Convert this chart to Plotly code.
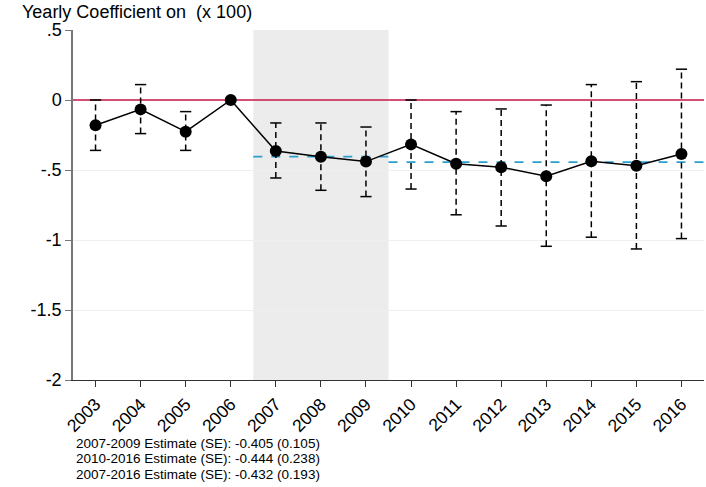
import plotly.graph_objects as go

years = list(range(2003, 2017))
coef = [-0.18, -0.067, -0.226, 0.0, -0.364, -0.405, -0.44,
        -0.317, -0.455, -0.48, -0.545, -0.438, -0.469, -0.386]
ci_hi = [0.0, 0.11, -0.083, None, -0.164, -0.164, -0.193,
         0.0, -0.083, -0.064, -0.036, 0.11, 0.131, 0.22]
ci_lo = [-0.36, -0.24, -0.36, None, -0.557, -0.645, -0.69,
         -0.636, -0.82, -0.9, -1.045, -0.98, -1.064, -0.99]

# pooled estimates (period, start, end, value)
pooled = [("2007-2009", 2006.5, 2009.5, -0.405), ("2010-2016", 2009.5, 2016.5, -0.444)]
notes = ["2007-2009 Estimate (SE): -0.405 (0.105)",
         "2010-2016 Estimate (SE): -0.444 (0.238)",
         "2007-2016 Estimate (SE): -0.432 (0.193)"]

ytickvals = [0.5, 0, -0.5, -1, -1.5, -2]
yticktext = [".5", "0", "-.5", "-1", "-1.5", "-2"]

FONT = "Liberation Sans, Arial, sans-serif"

fig = go.Figure()

# shaded recession period
fig.add_vrect(x0=2006.5, x1=2009.5, fillcolor="#ececec", line_width=0, layer="below")

# zero line
fig.add_trace(go.Scatter(x=[2002.5, 2016.5], y=[0, 0], mode="lines",
                         line=dict(color="#c8174a", width=1.5),
                         showlegend=False, hoverinfo="skip"))

# pooled estimates
for name, x0, x1, val in pooled:
    fig.add_trace(go.Scatter(x=[x0, x1], y=[val, val], mode="lines",
                             line=dict(color="#2a9fd0", width=1.8, dash="dash"),
                             showlegend=False, hoverinfo="skip"))

# dashed confidence intervals
cx, cy, capx, capy = [], [], [], []
for yr, lo, hi in zip(years, ci_lo, ci_hi):
    if lo is None:
        continue
    cx += [yr, yr, None]
    cy += [lo, hi, None]
    capx += [yr, yr]
    capy += [lo, hi]

fig.add_trace(go.Scatter(x=cx, y=cy, mode="lines",
                         line=dict(color="black", width=1.5, dash="6px,4px"),
                         showlegend=False, hoverinfo="skip"))
fig.add_trace(go.Scatter(x=capx, y=capy, mode="markers",
                         marker=dict(symbol="line-ew", size=8,
                                     line=dict(color="black", width=1.5)),
                         showlegend=False, hoverinfo="skip"))

# point estimates
fig.add_trace(go.Scatter(x=years, y=coef, mode="lines+markers",
                         line=dict(color="black", width=1.5),
                         marker=dict(color="black", size=12),
                         showlegend=False))

fig.add_annotation(text="Yearly Coefficient on \u00a0(x 100)", xref="paper", yref="paper",
                   x=-0.082, y=1.051, xanchor="left", yanchor="middle", showarrow=False,
                   borderpad=0, font=dict(size=18, color="black", family=FONT))

for i, line in enumerate(notes):
    fig.add_annotation(text=line, xref="paper", yref="paper",
                       x=0.003, y=-0.18 - 0.0443 * i, xanchor="left", yanchor="middle",
                       showarrow=False, borderpad=0,
                       font=dict(size=13.5, color="black", family=FONT))

fig.update_layout(
    width=706, height=487,
    margin=dict(l=73, r=2, t=30, b=107),
    plot_bgcolor="white", paper_bgcolor="white",
    font=dict(family=FONT, size=15, color="black"),
    xaxis=dict(range=[2002.5, 2016.5], tickvals=years, ticktext=[str(y) for y in years],
               tickangle=-45, ticks="outside", ticklen=6, tickcolor="#333",
               tickfont=dict(size=17.5),
               showline=True, linecolor="#333", linewidth=1.2,
               showgrid=False, zeroline=False),
    yaxis=dict(range=[-2, 0.5], tickvals=ytickvals, ticktext=yticktext,
               ticks="outside", ticklen=6, tickcolor="#777",
               tickfont=dict(size=18),
               showline=True, linecolor="#777", linewidth=1.5,
               showgrid=True, gridcolor="#eef0ef", gridwidth=1, zeroline=False),
)

fig.write_html("out.html", config={"displayModeBar": False},
               post_script="document.body.style.margin='0';")
